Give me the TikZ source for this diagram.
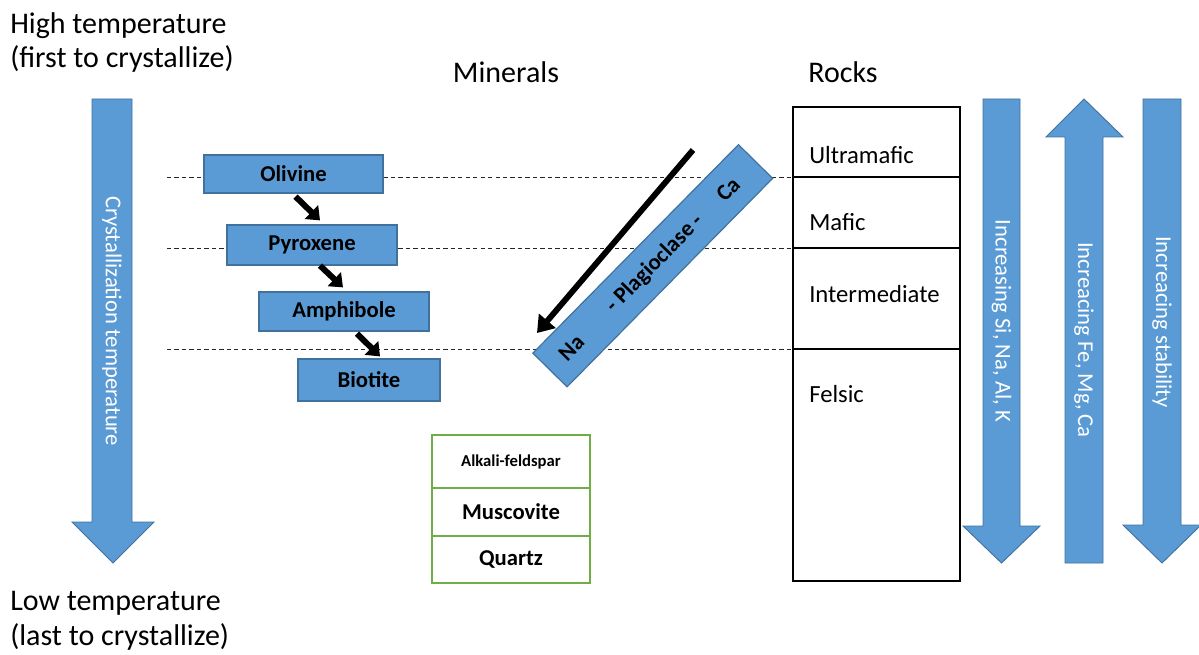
\documentclass[tikz,border=0pt]{standalone}
\usepackage{fontspec}
\setmainfont{Carlito}
\usetikzlibrary{arrows.meta,calc,positioning}

\definecolor{boxblue}{HTML}{5B9BD5}
\definecolor{boxedge}{HTML}{41719C}
\definecolor{mingreen}{HTML}{70AD47}

\tikzset{
  heading/.style={font=\fontsize{22.5}{26}\selectfont, inner sep=0pt},
  mineral/.style={draw=boxedge, fill=boxblue, line width=0.9pt, inner sep=0pt,
    font=\fontsize{17}{20}\selectfont\bfseries},
  plagtext/.style={font=\fontsize{17}{20}\selectfont\bfseries, inner sep=0pt},
  stepflow/.style={line width=4.5pt, -{Triangle[length=9pt,width=14pt]}},
  greencell/.style={draw=mingreen, line width=1.1pt, minimum width=118.5pt, inner sep=0pt,
    outer sep=0pt, font=\fontsize{17}{20}\selectfont\bfseries},
  rockcell/.style={draw, line width=1.1pt, minimum width=125.25pt, inner sep=0pt, outer sep=0pt},
  rocklabel/.style={font=\fontsize{18.5}{22}\selectfont, anchor=west, inner sep=0pt},
  bigarrow/.style={fill=boxblue, draw=boxedge, line width=0.7pt},
  arrowtext/.style={font=\fontsize{17}{20}\selectfont, text=white, rotate=-90, inner sep=0pt},
  guide/.style={dash pattern=on 3.2pt off 2.4pt, line width=0.7pt, black!85}
}

\begin{document}
\begin{tikzpicture}[x=0.75pt,y=-0.75pt]
\useasboundingbox (0,0) rectangle (1199,655);

% temperature labels and arrow
\node[heading, anchor=north west, align=left] (hightemp) at (10,12) {High temperature\\(first to crystallize)};
\node[heading, anchor=north west, align=left] (lowtemp) at (10,591) {Low temperature\\(last to crystallize)};
\filldraw[bigarrow] (92,99) -- (132,99) -- (132,522) -- (154,522) -- (113,563) -- (72,522) -- (92,522) -- cycle;
\node[arrowtext] (crysttemp) at (112,321) {Crystallization temperature};

\node[heading] (minerals) at (506,72) {Minerals};
\node[heading] (rocks) at (843,72) {Rocks};

% rock column
\node[rockcell, minimum height=52.5pt, anchor=north west] (ultra) at (793,107) {};
\node[rockcell, minimum height=53.25pt, below=0pt of ultra] (mafic) {};
\node[rockcell, minimum height=75.75pt, below=0pt of mafic] (inter) {};
\node[rockcell, minimum height=174pt, below=0pt of inter] (felsic) {};
\node[rocklabel] (ultraL) at ($(ultra.west)+(16,13)$) {Ultramafic};
\node[rocklabel] (maficL) at ($(mafic.west)+(16,9.5)$) {Mafic};
\node[rocklabel] (interL) at ($(inter.west)+(16,-4.5)$) {Intermediate};
\node[rocklabel] (felsicL) at ($(felsic.north west)+(16,45)$) {Felsic};

% guide lines
\coordinate (guideA) at (167,177);
\coordinate (guideB) at (167,248);
\coordinate (guideC) at (167,349);
\draw[guide] (guideA) -- (ultra.south west);
\draw[guide] (guideB) -- (mafic.south west);
\draw[guide] (guideC) -- (inter.south west);

% discontinuous series
\node[mineral, minimum width=134.25pt, minimum height=28.5pt] (olivine) at (293.5,174) {Olivine};
\node[mineral, minimum width=127.5pt, minimum height=30pt] (pyroxene) at (312,245) {Pyroxene};
\node[mineral, minimum width=127.5pt, minimum height=29.25pt] (amphibole) at (344,311.5) {Amphibole};
\node[mineral, minimum width=106.5pt, minimum height=31.5pt] (biotite) at (369,380) {Biotite};
\draw[stepflow] ($(olivine.south)+(2,3)$) -- ($(pyroxene.north)+(8,-4)$);
\draw[stepflow] ($(pyroxene.south)+(8,0)$) -- ($(amphibole.north)+(-1,-4)$);
\draw[stepflow] ($(amphibole.south)+(13,2)$) -- ($(biotite.north)+(11,-2)$);

% continuous series
\node[mineral, rotate=45.4, minimum width=219.6pt, minimum height=36pt] (plag) at (652.75,265.75) {};
\node[plagtext, rotate=45.4] (naL) at ($(plag.west)!0.106!(plag.east)$) {Na};
\node[plagtext, rotate=45.4] (plagL) at ($(plag.west)!0.51!(plag.east)$) {- Plagioclase -};
\node[plagtext, rotate=45.4] (caL) at ($(plag.west)!0.865!(plag.east)$) {Ca};
\coordinate (plagTail) at (693,150);
\coordinate (plagTip) at (537,333);
\draw[line width=4.4pt, -{Triangle[length=12pt,width=16pt]}] (plagTail) -- (plagTip);

% late minerals
\node[greencell, minimum height=39.75pt, anchor=north west, font=\fontsize{12.5}{15}\selectfont\bfseries] (alkali) at (432,435) {Alkali-feldspar};
\node[greencell, minimum height=36pt, below=0pt of alkali] (muscovite) {Muscovite};
\node[greencell, minimum height=35.25pt, below=0pt of muscovite] (quartz) {Quartz};

% trend arrows
\filldraw[bigarrow] (983,99) -- (1020,99) -- (1020,526) -- (1040,526) -- (1001.5,563) -- (963,526) -- (983,526) -- cycle;
\node[arrowtext] (siTrend) at (1001.5,321) {Increasing Si, Na, Al, K};
\filldraw[bigarrow] (1065,563) -- (1103,563) -- (1103,137) -- (1123,137) -- (1084,99) -- (1046,137) -- (1065,137) -- cycle;
\node[arrowtext] (feTrend) at (1084,340) {Increacing Fe, Mg, Ca};
\filldraw[bigarrow] (1143,99) -- (1181,99) -- (1181,525) -- (1201,525) -- (1162,563) -- (1123,525) -- (1143,525) -- cycle;
\node[arrowtext] (stabTrend) at (1162,322) {Increacing stability};
\end{tikzpicture}
\end{document}
